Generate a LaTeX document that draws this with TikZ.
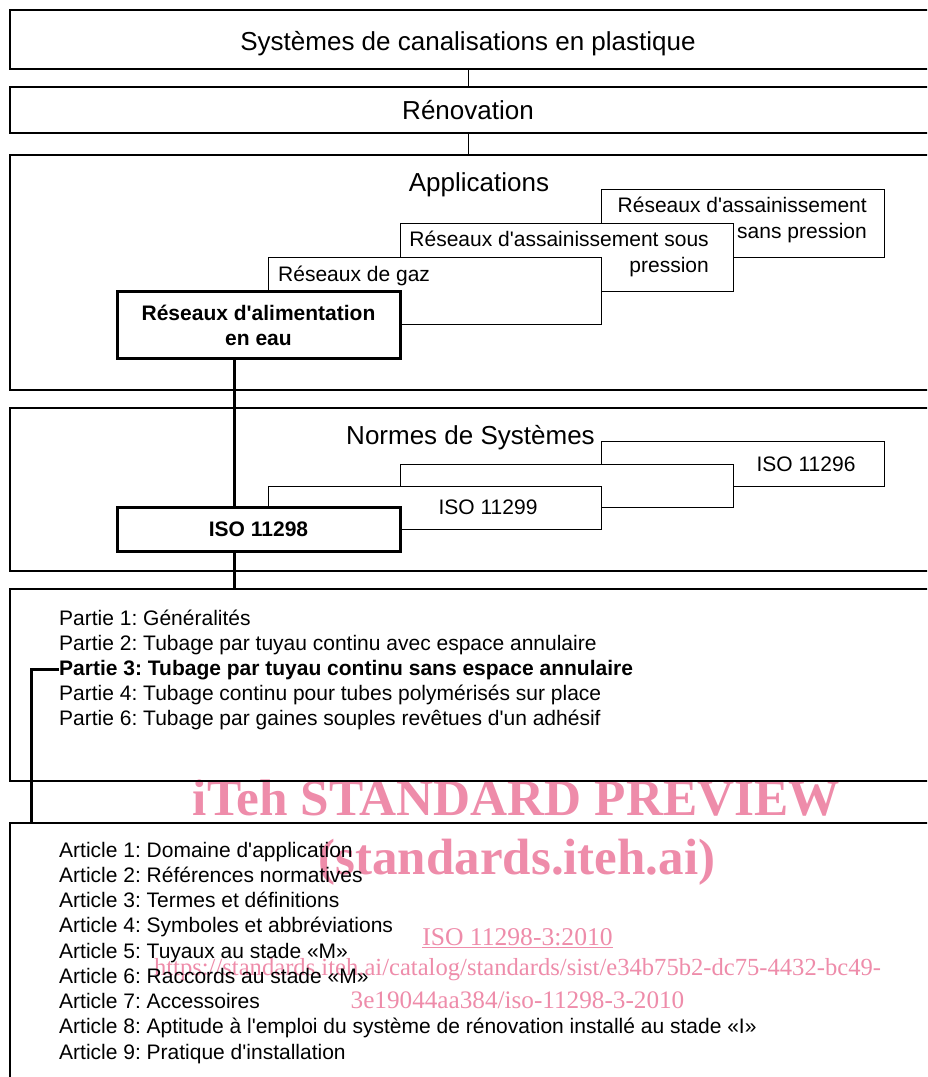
\documentclass[tikz,border=0pt]{standalone}
\usepackage{fontspec}
\setmainfont{Liberation Sans}[Ligatures=TeXOff]
\newfontfamily\wmfont{Liberation Serif}[Ligatures=TeXOff]
\definecolor{wmpink}{RGB}{238,140,170}
\newcommand\fbody{\fontsize{21}{25}\selectfont}
\newcommand\ftitle{\fontsize{26}{30}\selectfont}
\frenchspacing
\begin{document}
\begin{tikzpicture}[x=1pt,y=-1pt,
  outer/.style={draw, line width=2.8pt, inner sep=0pt, minimum width=920pt},
  sbox/.style={draw, fill=white, line width=1pt, inner sep=0pt},
  kbox/.style={draw, fill=white, line width=3pt, inner sep=0pt},
  ttl/.style={inner sep=0pt, font=\ftitle, anchor=base},
  bt/.style={inner sep=0pt, font=\fbody},
  thinc/.style={line width=1pt},
  thickc/.style={line width=3pt},
  wm/.style={inner sep=0pt, text=wmpink, anchor=base}]
\useasboundingbox (0,0) rectangle (927,1077);
\clip (0,0) rectangle (927,1077);

% watermark (behind)
\node[wm, font=\wmfont\bfseries\fontsize{51.3}{55}\selectfont] (w1) at (516.5,815) {iTeh STANDARD PREVIEW};
\node[wm, font=\wmfont\bfseries\fontsize{51}{55}\selectfont] (w2) at (517,874) {(standards.iteh.ai)};
\node[wm, font=\wmfont\fontsize{25.6}{30}\selectfont] (w3) at (517.5,945) {ISO 11298-3:2010};
\draw[wmpink, line width=1.2pt] ([yshift=-2.8pt]w3.base west) -- ([yshift=-2.8pt]w3.base east);
\node[wm, font=\wmfont\fontsize{24.6}{30}\selectfont] (w4) at (517.5,975) {https://standards.iteh.ai/catalog/standards/sist/e34b75b2-dc75-4432-bc49-};
\node[wm, font=\wmfont\fontsize{25.2}{30}\selectfont] (w5) at (517.5,1008) {3e19044aa384/iso-11298-3-2010};

% outer boxes
\node[outer, minimum height=59pt] (b1) at (470,39.5) {};
\node[outer, minimum height=46pt] (b2) at (470,110) {};
\node[outer, minimum height=235pt] (b3) at (470,272.5) {};
\node[outer, minimum height=163pt] (b4) at (470,489.5) {};
\node[outer, minimum height=192pt] (b5) at (470,685) {};
\node[outer, minimum height=287pt] (b6) at (470,966.5) {};

% titles
\node[ttl] (t1) at (468,50) {Systèmes de canalisations en plastique};
\node[ttl] (t2) at (468,119) {Rénovation};
\node[ttl] (t3) at (479,191) {Applications};
\node[ttl] (t4) at (470.5,444) {Normes de Systèmes};

\draw[thinc] (t1 |- b1.south) -- (t1 |- b2.north);
\draw[thinc] (t1 |- b2.south) -- (t1 |- b3.north);

% applications boxes
\node[sbox, minimum width=283pt, minimum height=68pt] (s1) at (742.5,223) {};
\node[sbox, minimum width=333pt, minimum height=68pt] (s2) at (566.5,257) {};
\node[sbox, minimum width=333pt, minimum height=67pt] (s3) at (434.5,290.5) {};
\node[kbox, minimum width=283pt, minimum height=67pt] (s4) at (258.5,324.5) {};

\node[bt, anchor=base east] (s1a) at (867,212.5) {Réseaux d'assainissement};
\node[bt, anchor=base east] (s1b) at (867,238.5) {sans pression};
\node[bt, anchor=base east] (s2a) at (709,246.5) {Réseaux d'assainissement sous};
\node[bt, anchor=base east] (s2b) at (709,272.5) {pression};
\node[bt, anchor=base west] (s3a) at (278,281.5) {Réseaux de gaz};
\node[bt, anchor=base, font=\fbody\bfseries] (s4a) at (258.5,320.5) {Réseaux d'alimentation};
\node[bt, anchor=base, font=\fbody\bfseries] (s4b) at (258.5,345.5) {en eau};

% system standards boxes
\node[sbox, minimum width=283pt, minimum height=45pt] (n1) at (742.5,463.5) {};
\node[sbox, minimum width=333pt, minimum height=43pt] (n2) at (566.5,485.5) {};
\node[sbox, minimum width=333pt, minimum height=43pt] (n3) at (434.5,507.5) {};
\node[kbox, minimum width=283pt, minimum height=44pt] (n4) at (258.5,529) {};
\node[bt, anchor=base] (n1t) at (806,471.5) {ISO 11296};
\node[bt, anchor=base] (n3t) at (488,514.5) {ISO 11299};
\node[bt, anchor=base, font=\fbody\bfseries] (n4t) at (258.5,536.5) {ISO 11298};

% spine connectors
\coordinate (sp) at (234,0);
\draw[thickc] (s4.south -| sp) -- (n4.north -| sp);
\draw[thickc] (n4.south -| sp) -- (b5.north -| sp);

% parties
\node[bt, anchor=base west] (p1) at (59,625) {Partie 1: Généralités};
\node[bt, anchor=base west] (p2) at (59,650) {Partie 2: Tubage par tuyau continu avec espace annulaire};
\node[bt, anchor=base west, font=\fbody\bfseries] (p3) at (59,675) {Partie 3: Tubage par tuyau continu sans espace annulaire};
\node[bt, anchor=base west] (p4) at (59,700) {Partie 4: Tubage continu pour tubes polymérisés sur place};
\node[bt, anchor=base west] (p5) at (59,725) {Partie 6: Tubage par gaines souples revêtues d'un adhésif};

\coordinate (lf) at (31,0);
\draw[thickc] (p3.west) -| (lf |- b6.north);

% articles
\node[bt, anchor=base west] (a1) at (59,857) {Article 1: Domaine d'application};
\node[bt, anchor=base west] (a2) at (59,882.25) {Article 2: Références normatives};
\node[bt, anchor=base west] (a3) at (59,907.5) {Article 3: Termes et définitions};
\node[bt, anchor=base west] (a4) at (59,932.75) {Article 4: Symboles et abbréviations};
\node[bt, anchor=base west] (a5) at (59,958) {Article 5: Tuyaux au stade «M»};
\node[bt, anchor=base west] (a6) at (59,983.25) {Article 6: Raccords au stade «M»};
\node[bt, anchor=base west] (a7) at (59,1008.5) {Article 7: Accessoires};
\node[bt, anchor=base west] (a8) at (59,1033.75) {Article 8: Aptitude à l'emploi du système de rénovation installé au stade «I»};
\node[bt, anchor=base west] (a9) at (59,1059) {Article 9: Pratique d'installation};
\end{tikzpicture}
\end{document}
